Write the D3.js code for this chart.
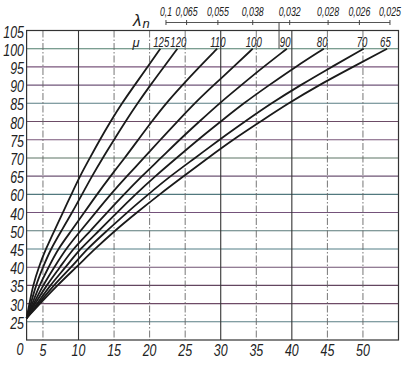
<!DOCTYPE html>
<html>
<head>
<meta charset="utf-8">
<script src="https://cdn.jsdelivr.net/npm/d3@7"></script>
<style>
  body { margin: 0; background: #fff; }
  text { font-family: "Liberation Sans", "DejaVu Sans", sans-serif; font-style: italic; fill: #222; }
</style>
</head>
<body>
<div class="chart"></div>
<script>
// y levels (first one is the common start at the left edge)
let levels = [26, 30, 35, 40, 45, 50, 55, 60, 65, 70, 75, 80, 85, 90, 95, 100];

// mu value of each curve
let mus = ['125', '120', '110', '100', '90', '80', '70', '65'];

// x value of each curve at the levels above
let c125 = [2.7, 3.1, 3.6, 4.4, 5.4, 6.6, 7.8, 9.0, 10.2, 11.6, 13.0, 14.5, 16.1, 17.9, 19.7, 21.5];
let c120 = [2.7, 3.3, 4.0, 5.0, 6.1, 7.6, 9.1, 10.5, 11.9, 13.4, 15.0, 16.6, 18.3, 20.1, 22.0, 23.9];
let c110 = [2.7, 3.5, 4.5, 5.8, 7.1, 9.0, 10.8, 12.6, 14.5, 16.5, 18.4, 20.3, 22.3, 24.6, 27.0, 29.5];
let c100 = [2.7, 3.7, 5.0, 6.6, 8.2, 10.3, 12.4, 14.5, 16.8, 19.2, 21.5, 23.9, 26.3, 29.0, 31.8, 34.5];
let c90  = [2.7, 3.9, 5.5, 7.4, 9.2, 11.7, 14.0, 16.4, 18.9, 21.6, 24.2, 27.0, 29.8, 32.9, 36.0, 39.3];
let c80  = [2.7, 4.2, 6.0, 8.2, 10.2, 12.9, 15.4, 18.0, 20.8, 23.8, 26.8, 30.0, 33.2, 36.8, 40.5, 44.5];
let c70  = [2.7, 4.4, 6.5, 9.0, 11.2, 14.0, 16.8, 19.8, 22.9, 26.4, 29.8, 33.4, 37.1, 41.2, 45.6, 50.1];
let c65  = [2.7, 4.6, 7.0, 9.7, 12.3, 15.1, 18.2, 21.4, 24.8, 28.2, 31.7, 35.6, 39.5, 43.8, 48.6, 53.4];

let curves = [c125, c120, c110, c100, c90, c80, c70, c65];

// top scale: lambda_n labels and where they sit on the x axis
let lambdas = ['0,1', '0,065', '0,055', '0,038', '0,032', '0,028', '0,026', '0,025'];
let lambdaX = [22.3, 25.2, 29.6, 34.5, 39.7, 45.1, 49.5, 53.8];

// axis ticks
let xTicks = [5, 10, 15, 20, 25, 30, 35, 40, 45, 50];
let yTicks = [25, 30, 35, 40, 45, 50, 55, 60, 65, 70, 75, 80, 85, 90, 95, 100, 105];
// labels as printed on the original (55 is misprinted as 40)
let yLabels = ['25', '30', '35', '40', '45', '50', '40', '60', '65', '70', '75', '80', '85', '90', '95', '100', '105'];

// scanner tints of the horizontal lines, 25 .. 100
let hColors = ['#5a7e84', '#6e4a66', '#634660', '#6f5272', '#527f86', '#5a7a7a', '#74527a', '#51787e',
               '#6e5474', '#5c7464', '#78567a', '#6c4c66', '#5a7e84', '#70567a', '#7a567c', '#4f7e6c'];
// which verticals are solid, the others are dash-dotted
let solidX = [10, 30, 40];

let W = 411, H = 365;
let xMin = 2.7, xMax = 55, yMin = 20, yMax = 105;

let x = d3.scaleLinear().domain([0, 55]).range([7.4, 398.5]);
let y = d3.scaleLinear().domain([yMin, yMax]).range([340, 30.5]);

// width of a numeric label, digits and commas
function labelLen(s, digit) {
	let commas = (s.match(/,/g) || []).length;
	return (s.length - commas) * digit + commas * 2;
}

let svg = d3.select('.chart')
            .append('svg')
            .attr('width', W)
            .attr('height', H);

// horizontal grid
svg.append('g')
   .selectAll('line')
   .data(yTicks.slice(0, -1))
   .join('line')
   .attr('x1', x(xMin)).attr('x2', x(xMax))
   .attr('y1', d => y(d)).attr('y2', d => y(d))
   .attr('stroke', (d, i) => hColors[i])
   .attr('stroke-width', 1.1);

// vertical grid
svg.append('g')
   .selectAll('line')
   .data(xTicks)
   .join('line')
   .attr('x1', d => x(d)).attr('x2', d => x(d))
   .attr('y1', y(yMax)).attr('y2', y(yMin))
   .attr('stroke', d => solidX.includes(d) ? '#333' : '#666')
   .attr('stroke-width', d => solidX.includes(d) ? 1.1 : 0.9)
   .attr('stroke-dasharray', d => solidX.includes(d) ? null : '7,2,1.5,2');

// frame
svg.append('rect')
   .attr('x', x(xMin)).attr('y', y(yMax))
   .attr('width', x(xMax) - x(xMin))
   .attr('height', y(yMin) - y(yMax))
   .attr('fill', 'none')
   .attr('stroke', '#333')
   .attr('stroke-width', 1.2);

// y labels
svg.append('g')
   .selectAll('text')
   .data(yTicks)
   .join('text')
   .attr('x', 24)
   .attr('y', d => y(d) + 7)
   .attr('text-anchor', 'end')
   .attr('font-size', 16)
   .attr('textLength', (d, i) => labelLen(yLabels[i], 6.9))
   .attr('lengthAdjust', 'spacingAndGlyphs')
   .text((d, i) => yLabels[i]);

// origin label
svg.append('text')
   .attr('x', 20).attr('y', 355)
   .attr('text-anchor', 'middle')
   .attr('font-size', 16)
   .attr('textLength', 7)
   .attr('lengthAdjust', 'spacingAndGlyphs')
   .text('0');

// x labels
svg.append('g')
   .selectAll('text')
   .data(xTicks)
   .join('text')
   .attr('x', d => x(d))
   .attr('y', 356)
   .attr('text-anchor', 'middle')
   .attr('font-size', 16)
   .attr('textLength', d => labelLen(String(d), 6.9))
   .attr('lengthAdjust', 'spacingAndGlyphs')
   .text(d => d);

// curves
let line = d3.line()
             .x(d => x(d[0]))
             .y(d => y(d[1]))
             .curve(d3.curveBasis);

svg.append('g')
   .selectAll('path')
   .data(curves)
   .join('path')
   .attr('d', c => line(c.map((v, i) => [v, levels[i]])))
   .attr('fill', 'none')
   .attr('stroke', '#1a1a1a')
   .attr('stroke-width', 1.8);

// mu labels, starting just left of the top end of each curve (squeezed sideways)
svg.append('text')
   .attr('x', 136).attr('y', y(100) - 2)
   .attr('text-anchor', 'middle')
   .attr('font-size', 13)
   .text('μ');

svg.append('g')
   .selectAll('text')
   .data(curves)
   .join('text')
   .attr('transform', c => 'translate(' + (x(c[c.length - 1]) - 7) + ',' + (y(100) - 2) + ') scale(0.64,1)')
   .attr('font-size', 15)
   .text((c, i) => mus[i]);

// lambda_n scale on top
let topY = 22.5;
svg.append('line')
   .attr('x1', x(lambdaX[0])).attr('x2', x(lambdaX[lambdaX.length - 1]))
   .attr('y1', topY).attr('y2', topY)
   .attr('stroke', '#555')
   .attr('stroke-width', 1);

svg.append('g')
   .selectAll('line')
   .data(lambdaX)
   .join('line')
   .attr('x1', d => x(d)).attr('x2', d => x(d))
   .attr('y1', topY - 2.5).attr('y2', topY + 2.5)
   .attr('stroke', '#444');

svg.append('line')
   .attr('x1', x(38.2)).attr('x2', x(38.2))
   .attr('y1', topY).attr('y2', y(100))
   .attr('stroke', '#444')
   .attr('stroke-width', 1);

svg.append('g')
   .selectAll('text')
   .data(lambdaX)
   .join('text')
   .attr('x', d => x(d))
   .attr('y', 16)
   .attr('text-anchor', 'middle')
   .attr('font-size', 12)
   .attr('textLength', (d, i) => labelLen(lambdas[i], 5.0))
   .attr('lengthAdjust', 'spacingAndGlyphs')
   .text((d, i) => lambdas[i]);

let lam = svg.append('text')
             .attr('x', 133).attr('y', 26)
             .attr('font-size', 17);
lam.append('tspan').text('λ');
lam.append('tspan').attr('font-size', 13).attr('dx', 1).attr('dy', 2).text('n');
</script>
</body>
</html>
